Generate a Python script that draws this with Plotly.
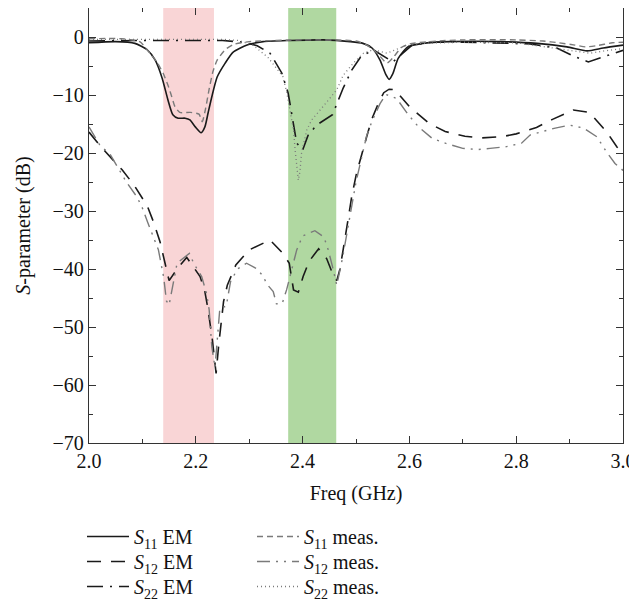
import plotly.graph_objects as go

# ---------------- data ----------------
s11_em_f = [2.000, 2.050, 2.086, 2.109, 2.124, 2.137, 2.148, 2.157, 2.167, 2.180, 2.189, 2.199,
            2.210, 2.217, 2.223, 2.230, 2.240, 2.255, 2.270, 2.296, 2.326, 2.376, 2.438, 2.489,
            2.513, 2.530, 2.545, 2.556, 2.562, 2.569, 2.579, 2.597, 2.625, 2.676, 2.770, 2.839,
            2.895, 2.933, 2.963, 3.000]
s11_em_db = [-1.0, -0.8, -1.1, -2.2, -4.0, -7.1, -10.9, -13.4, -14.0, -14.0, -14.3, -15.5,
             -16.5, -15.5, -13.1, -10.3, -6.9, -4.5, -2.6, -1.4, -0.8, -0.6, -0.5, -0.8,
             -1.1, -1.9, -4.0, -6.5, -7.3, -6.3, -3.7, -1.7, -1.1, -0.8, -0.8, -1.1,
             -1.7, -2.4, -1.9, -1.4]

s11_meas_f = [2.000, 2.060, 2.095, 2.114, 2.127, 2.139, 2.149, 2.155, 2.161, 2.170, 2.190, 2.206,
              2.212, 2.218, 2.225, 2.232, 2.240, 2.255, 2.270, 2.300, 2.400, 2.500, 2.520, 2.540,
              2.558, 2.570, 2.585, 2.600, 2.650, 2.700, 2.800, 2.850, 2.880, 2.910, 2.930, 2.950,
              2.980, 3.000]
s11_meas_db = [-0.3, -0.3, -0.8, -2.8, -4.3, -6.3, -8.6, -10.3, -12.0, -13.0, -13.0, -13.3,
               -14.6, -12.5, -9.0, -6.0, -4.0, -2.2, -1.3, -0.8, -0.5, -0.7, -1.4, -2.8,
               -4.5, -3.5, -1.8, -1.2, -0.7, -0.5, -0.5, -0.7, -1.0, -1.4, -1.7, -1.5,
               -1.0, -0.9]

s12_em_f = [2.000, 2.024, 2.062, 2.084, 2.109, 2.120, 2.133, 2.139, 2.150, 2.165, 2.183, 2.208,
            2.217, 2.223, 2.231, 2.238, 2.243, 2.252, 2.259, 2.275, 2.300, 2.339, 2.363, 2.375,
            2.383, 2.392, 2.401, 2.412, 2.430, 2.445, 2.457, 2.464, 2.470, 2.483, 2.492, 2.501,
            2.511, 2.520, 2.529, 2.542, 2.552, 2.562, 2.573, 2.600, 2.637, 2.667, 2.704, 2.734,
            2.773, 2.800, 2.838, 2.868, 2.907, 2.937, 2.969, 2.989, 3.000]
s12_em_db = [-16.4, -19.1, -22.9, -25.5, -29.1, -31.7, -35.3, -37.8, -42.0, -40.0, -38.0, -41.3,
             -43.9, -47.0, -52.2, -58.0, -53.0, -45.6, -42.8, -39.3, -36.7, -35.0, -37.3, -39.0,
             -43.6, -44.0, -41.3, -38.7, -36.5, -38.2, -41.0, -42.0, -40.0, -32.7, -27.5, -23.5,
             -20.0, -17.2, -14.3, -11.4, -9.6, -9.0, -9.1, -12.0, -14.9, -16.3, -17.1, -17.4,
             -17.2, -16.7, -15.6, -14.2, -12.6, -13.0, -16.3, -19.0, -20.0]

s12_meas_f = [2.000, 2.020, 2.040, 2.070, 2.090, 2.100, 2.110, 2.120, 2.130, 2.140, 2.145, 2.150,
              2.165, 2.188, 2.196, 2.211, 2.220, 2.225, 2.230, 2.236, 2.245, 2.257, 2.265, 2.278,
              2.295, 2.313, 2.326, 2.333, 2.345, 2.351, 2.362, 2.370, 2.380, 2.389, 2.400, 2.423,
              2.440, 2.448, 2.456, 2.464, 2.475, 2.490, 2.500, 2.510, 2.520, 2.530, 2.545, 2.556,
              2.576, 2.598, 2.617, 2.643, 2.670, 2.700, 2.729, 2.751, 2.782, 2.810, 2.826, 2.873,
              2.900, 2.926, 2.951, 2.969, 2.985, 3.000]
s12_meas_db = [-15.5, -18.6, -20.3, -25.0, -27.6, -29.5, -32.0, -34.5, -36.7, -41.5, -45.5, -46.2,
               -39.0, -37.3, -39.0, -41.3, -44.2, -47.0, -53.4, -57.0, -46.8, -46.4, -42.2, -40.0,
               -39.0, -39.9, -41.2, -42.6, -43.9, -46.0, -45.9, -43.6, -40.0, -36.7, -34.3, -33.4,
               -34.5, -36.7, -39.6, -42.8, -38.0, -30.0, -25.0, -21.0, -17.0, -14.5, -11.5, -9.9,
               -10.6, -13.4, -15.5, -17.5, -18.4, -19.2, -19.4, -19.2, -18.9, -18.3, -16.9, -15.7,
               -15.2, -15.7, -17.2, -19.8, -21.8, -23.0]

s22_em_f = [2.000, 2.050, 2.100, 2.150, 2.200, 2.250, 2.290, 2.315, 2.339, 2.361, 2.373, 2.382,
            2.389, 2.400, 2.410, 2.426, 2.456, 2.476, 2.492, 2.509, 2.532, 2.569, 2.605, 2.640,
            2.700, 2.790, 2.826, 2.876, 2.910, 2.935, 2.960, 3.000]
s22_em_db = [-0.7, -0.6, -0.6, -0.6, -0.6, -0.6, -0.9, -1.5, -2.8, -6.2, -9.7, -14.3,
             -18.3, -19.5, -17.0, -15.2, -13.4, -8.8, -5.7, -3.4, -2.2, -4.3, -1.4, -0.9,
             -0.9, -1.1, -1.2, -1.9, -3.4, -4.3, -3.5, -2.3]

s22_meas_f = [2.000, 2.050, 2.100, 2.150, 2.200, 2.250, 2.280, 2.307, 2.335, 2.363, 2.370, 2.380,
              2.383, 2.386, 2.392, 2.395, 2.398, 2.408, 2.417, 2.440, 2.464, 2.476, 2.495, 2.514,
              2.532, 2.558, 2.590, 2.620, 2.700, 2.800, 2.845, 2.880, 2.920, 2.938, 2.965, 3.000]
s22_meas_db = [-0.4, -0.4, -0.4, -0.4, -0.4, -0.4, -0.6, -1.4, -3.5, -6.8, -9.4, -14.3,
               -16.0, -19.5, -24.7, -23.2, -20.0, -16.0, -14.3, -11.8, -9.1, -6.6, -4.5, -2.8,
               -2.2, -2.8, -1.6, -1.1, -0.9, -1.0, -1.6, -2.0, -2.5, -2.8, -2.4, -2.0]

band1 = (2.139, 2.234)   # red passband
band2 = (2.373, 2.463)   # green passband

FONT = "Liberation Serif"
BLACK = "#1a1a1a"
GRAY = "#7a7a7a"

# page body has an 8px margin -> figure drawn 8px lower/right; compensate
W, H = 629, 598
ML, MR, MT, MB = 81, 14, 0, 163
PLOT_H = H - MT - MB
PLOT_W = W - ML - MR

fig = go.Figure()

def add(x, y, name, color, width, dash, legend, shape="spline"):
    fig.add_trace(go.Scatter(
        x=x, y=y, mode="lines", name=name, legend=legend,
        line=dict(color=color, width=width, dash=dash, shape=shape,
                  smoothing=0.6 if shape == "spline" else None),
    ))

add(s11_em_f, s11_em_db, "<i>S</i><sub>11</sub> EM", BLACK, 1.6, "solid", "legend")
add(s12_em_f, s12_em_db, "<i>S</i><sub>12</sub> EM", BLACK, 1.6, "14px,10px", "legend2", "linear")
add(s22_em_f, s22_em_db, "<i>S</i><sub>22</sub> EM", BLACK, 1.6, "16px,7px,2px,7px", "legend3", "linear")
add(s11_meas_f, s11_meas_db, "<i>S</i><sub>11</sub> meas.", GRAY, 1.4, "6px,4px", "legend4")
add(s12_meas_f, s12_meas_db, "<i>S</i><sub>12</sub> meas.", GRAY, 1.4, "13px,6px,2px,6px,2px,6px", "legend5", "linear")
add(s22_meas_f, s22_meas_db, "<i>S</i><sub>22</sub> meas.", GRAY, 1.3, "1px,3px", "legend6", "linear")

fig.add_shape(type="rect", xref="x", yref="paper", x0=band1[0], x1=band1[1], y0=0, y1=1,
              fillcolor="#f9d5d6", line=dict(width=0), layer="below")
fig.add_shape(type="rect", xref="x", yref="paper", x0=band2[0], x1=band2[1], y0=0, y1=1,
              fillcolor="#b0d8a1", line=dict(width=0), layer="below")

axis_common = dict(
    showgrid=False, zeroline=False, showline=True, linecolor="#333", linewidth=1.3,
    mirror="allticks", ticks="inside", tickcolor="#333", ticklen=7, tickwidth=1.2,
    tickfont=dict(family=FONT, size=20, color="#111"),
)

# legend rows (page y of each row centre) and column x (page x of sample start)
row_y = [538, 563, 588]
col_x = [88, 258]
legends = {}
for i in range(6):
    col, row = divmod(i, 3)
    top_page = row_y[row] - 21
    plot_bottom_page = 8 + MT + PLOT_H
    yp = (plot_bottom_page - top_page) / PLOT_H
    xp = (col_x[col] - 6 - (8 + ML)) / PLOT_W
    key = "legend" if i == 0 else f"legend{i+1}"
    legends[key] = dict(x=xp, xanchor="left", y=yp, yanchor="top", orientation="v",
                        bgcolor="rgba(0,0,0,0)", itemwidth=42, tracegroupgap=0,
                        font=dict(family=FONT, size=20, color="#111"))

fig.update_layout(
    width=W, height=H,
    margin=dict(l=ML, r=MR, t=MT, b=MB),
    paper_bgcolor="white", plot_bgcolor="white",
    font=dict(family=FONT, size=20, color="#111"),
    xaxis=dict(range=[2.0, 3.0], dtick=0.2, tick0=2.0, tickformat=".1f",
               minor=dict(dtick=0.1, ticklen=4, ticks="inside", tickcolor="#333"),
               title=dict(text="Freq (GHz)", font=dict(family=FONT, size=20), standoff=14),
               **axis_common),
    yaxis=dict(range=[-70, 5], dtick=10, tick0=0,
               minor=dict(dtick=5, ticklen=4, ticks="inside", tickcolor="#333"),
               title=dict(text="<i>S</i>-parameter (dB)", font=dict(family=FONT, size=20), standoff=16),
               **axis_common),
    showlegend=True,
    **legends,
)

fig.write_html("out.html", config={"responsive": False, "displayModeBar": False})
